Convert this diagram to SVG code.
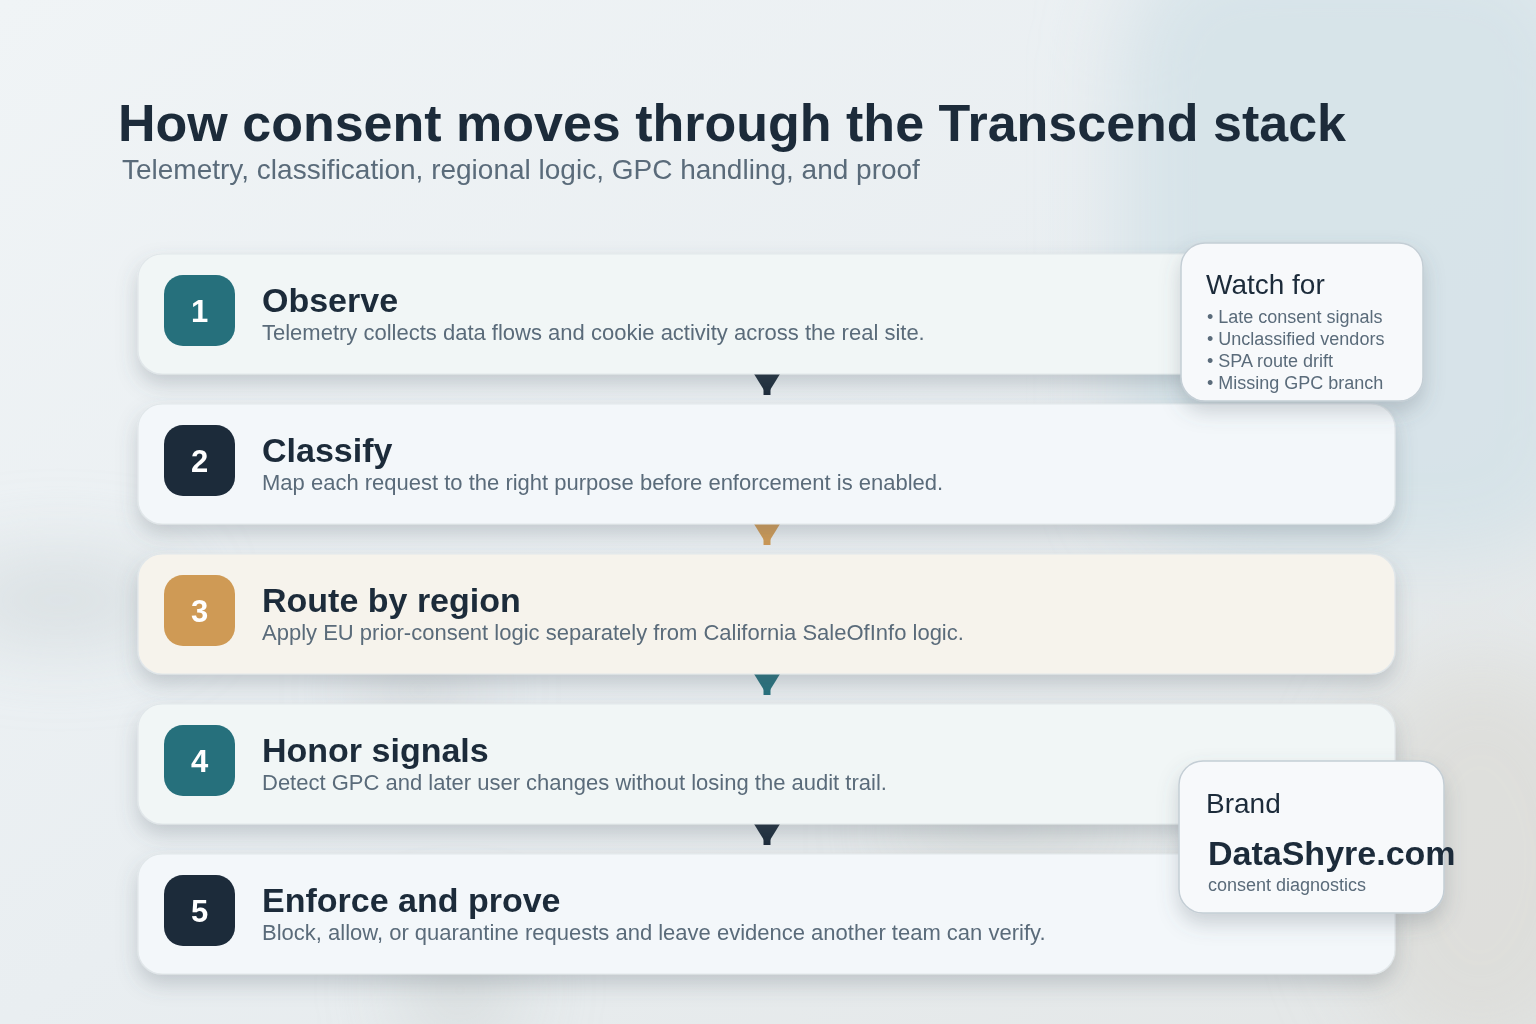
<svg xmlns="http://www.w3.org/2000/svg" width="1536" height="1024" viewBox="0 0 1536 1024">
  <defs>
    <linearGradient id="bg" x1="0" y1="0" x2="1" y2="1">
      <stop offset="0" stop-color="#f0f4f6"/>
      <stop offset="0.5" stop-color="#e9eef1"/>
      <stop offset="1" stop-color="#e3e6e6"/>
    </linearGradient>
    <filter id="blur" x="-50%" y="-50%" width="200%" height="200%">
      <feGaussianBlur stdDeviation="40"/>
    </filter>
    <filter id="shadow" x="-10%" y="-30%" width="120%" height="170%">
      <feDropShadow dx="0" dy="10" stdDeviation="10" flood-color="#56636e" flood-opacity="0.26"/>
    </filter>
    <marker id="arrow-dark" markerUnits="userSpaceOnUse" markerWidth="21" markerHeight="26" refX="0" refY="13" orient="auto" viewBox="0 0 21 26">
      <path d="M0,0 L21,13 L0,26 z" fill="#1c2b3a"/>
    </marker>
    <marker id="arrow-orange" markerUnits="userSpaceOnUse" markerWidth="21" markerHeight="26" refX="0" refY="13" orient="auto" viewBox="0 0 21 26">
      <path d="M0,0 L21,13 L0,26 z" fill="#cf9a55"/>
    </marker>
    <marker id="arrow-teal" markerUnits="userSpaceOnUse" markerWidth="21" markerHeight="26" refX="0" refY="13" orient="auto" viewBox="0 0 21 26">
      <path d="M0,0 L21,13 L0,26 z" fill="#26707c"/>
    </marker>
    <style>
      .card { stroke: #e1e7ea; stroke-width: 1.2; filter: url(#shadow); }
      .badge-num { font-family: "Liberation Sans", Arial, sans-serif; font-weight: bold; font-size: 31px; fill: #ffffff; text-anchor: middle; }
      .card-title { font-family: "Liberation Sans", Arial, sans-serif; font-weight: bold; font-size: 34px; fill: #1c2b3a; }
      .card-desc { font-family: "Liberation Sans", Arial, sans-serif; font-size: 22px; fill: #5a6b7a; }
      .side { fill: #f7f9fb; stroke: #c4ced5; stroke-width: 1.5; filter: url(#shadow); }
      .side-head { font-family: "Liberation Sans", Arial, sans-serif; font-size: 28px; fill: #1c2b3a; }
      .bullet { font-family: "Liberation Sans", Arial, sans-serif; font-size: 18px; fill: #5a6b7a; }
      .conn { stroke-width: 7; fill: none; }
    </style>
  </defs>

  <g id="background">
    <rect x="0" y="0" width="1536" height="1024" fill="url(#bg)"/>
    <g filter="url(#blur)">
      <rect x="1120" y="-60" width="470" height="620" rx="120" fill="#d4e2e7" opacity="0.85"/>
      <ellipse cx="60" cy="600" rx="120" ry="40" fill="#cfd5d8" opacity="0.7"/>
      <ellipse cx="420" cy="690" rx="60" ry="30" fill="#c4cacd" opacity="0.6"/>
      <ellipse cx="460" cy="990" rx="60" ry="60" fill="#cfd3d4" opacity="0.6"/>
      <ellipse cx="1000" cy="830" rx="120" ry="30" fill="#cfd2d0" opacity="0.6"/>
      <ellipse cx="1480" cy="860" rx="140" ry="200" fill="#dcdcd8" opacity="0.8"/>
    </g>
  </g>

  <g id="title">
    <text x="118" y="141" font-family="Liberation Sans, Arial, sans-serif" font-weight="bold" font-size="52" fill="#1c2b3a">How consent moves through the Transcend stack</text>
    <text x="122" y="179" font-family="Liberation Sans, Arial, sans-serif" font-size="28" fill="#5a6b7a">Telemetry, classification, regional logic, GPC handling, and proof</text>
  </g>

  <g id="connectors">
    <line class="conn" x1="767" y1="374" x2="767" y2="395" stroke="#1c2b3a" marker-start="url(#arrow-dark)"/>
    <line class="conn" x1="767" y1="524" x2="767" y2="545" stroke="#cf9a55" marker-start="url(#arrow-orange)"/>
    <line class="conn" x1="767" y1="674" x2="767" y2="695" stroke="#26707c" marker-start="url(#arrow-teal)"/>
    <line class="conn" x1="767" y1="824" x2="767" y2="845" stroke="#1c2b3a" marker-start="url(#arrow-dark)"/>
  </g>

  <g id="step-1">
    <rect class="card" x="138" y="254" width="1257" height="120" rx="24" fill="#f1f6f6"/>
    <rect x="164" y="275" width="71" height="71" rx="19" fill="#26707c"/>
    <text class="badge-num" x="199.5" y="322">1</text>
    <text class="card-title" x="262" y="312">Observe</text>
    <text class="card-desc" x="262" y="340">Telemetry collects data flows and cookie activity across the real site.</text>
  </g>

  <g id="step-2">
    <rect class="card" x="138" y="404" width="1257" height="120" rx="24" fill="#f3f7fa"/>
    <rect x="164" y="425" width="71" height="71" rx="19" fill="#1c2b3a"/>
    <text class="badge-num" x="199.5" y="472">2</text>
    <text class="card-title" x="262" y="462">Classify</text>
    <text class="card-desc" x="262" y="490">Map each request to the right purpose before enforcement is enabled.</text>
  </g>

  <g id="step-3">
    <rect class="card" x="138" y="554" width="1257" height="120" rx="24" fill="#f6f3ec"/>
    <rect x="164" y="575" width="71" height="71" rx="19" fill="#cf9a55"/>
    <text class="badge-num" x="199.5" y="622">3</text>
    <text class="card-title" x="262" y="612">Route by region</text>
    <text class="card-desc" x="262" y="640">Apply EU prior-consent logic separately from California SaleOfInfo logic.</text>
  </g>

  <g id="step-4">
    <rect class="card" x="138" y="704" width="1257" height="120" rx="24" fill="#f1f6f6"/>
    <rect x="164" y="725" width="71" height="71" rx="19" fill="#26707c"/>
    <text class="badge-num" x="199.5" y="772">4</text>
    <text class="card-title" x="262" y="762">Honor signals</text>
    <text class="card-desc" x="262" y="790">Detect GPC and later user changes without losing the audit trail.</text>
  </g>

  <g id="step-5">
    <rect class="card" x="138" y="854" width="1257" height="120" rx="24" fill="#f3f7fa"/>
    <rect x="164" y="875" width="71" height="71" rx="19" fill="#1c2b3a"/>
    <text class="badge-num" x="199.5" y="922">5</text>
    <text class="card-title" x="262" y="912">Enforce and prove</text>
    <text class="card-desc" x="262" y="940">Block, allow, or quarantine requests and leave evidence another team can verify.</text>
  </g>

  <g id="watch-for">
    <rect class="side" x="1181" y="243" width="242" height="158" rx="24"/>
    <text class="side-head" x="1206" y="294">Watch for</text>
    <text class="bullet" x="1207" y="323">• Late consent signals</text>
    <text class="bullet" x="1207" y="345">• Unclassified vendors</text>
    <text class="bullet" x="1207" y="367">• SPA route drift</text>
    <text class="bullet" x="1207" y="389">• Missing GPC branch</text>
  </g>

  <g id="brand">
    <rect class="side" x="1179" y="761" width="265" height="152" rx="24"/>
    <text class="side-head" x="1206" y="813">Brand</text>
    <text x="1208" y="865" font-family="Liberation Sans, Arial, sans-serif" font-weight="bold" font-size="34" fill="#1c2b3a">DataShyre.com</text>
    <text x="1208" y="891" font-family="Liberation Sans, Arial, sans-serif" font-size="18" fill="#5a6b7a">consent diagnostics</text>
  </g>
</svg>
